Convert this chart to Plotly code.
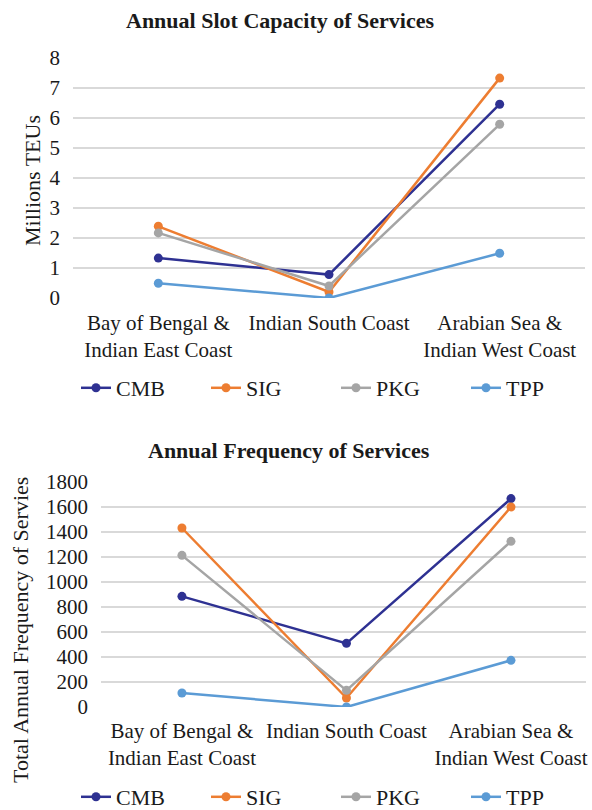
import plotly.graph_objects as go

categories = ["Bay of Bengal &<br>Indian East Coast", "Indian South Coast", "Arabian Sea &<br>Indian West Coast"]
series_names = ["CMB", "SIG", "PKG", "TPP"]
colors = ["#2E3192", "#ED7D31", "#A5A5A5", "#5B9BD5"]

# Annual slot capacity (millions TEUs)
cap_CMB = [1.33, 0.78, 6.46]
cap_SIG = [2.39, 0.20, 7.33]
cap_PKG = [2.17, 0.40, 5.79]
cap_TPP = [0.49, 0.00, 1.49]

# Annual frequency of services
freq_CMB = [885, 509, 1667]
freq_SIG = [1432, 72, 1600]
freq_PKG = [1213, 133, 1325]
freq_TPP = [112, 0, 373]

cap_values = [cap_CMB, cap_SIG, cap_PKG, cap_TPP]
freq_values = [freq_CMB, freq_SIG, freq_PKG, freq_TPP]

W, H = 592, 810
FONT = "Liberation Serif, Times New Roman, serif"
TXT = "#1a1a1a"

def px_x(p):
    return p / W

def px_y(p):
    return 1 - p / H

fig = go.Figure()
cat_idx = [0, 1, 2]
for name, col, vals in zip(series_names, colors, cap_values):
    fig.add_trace(go.Scatter(x=cat_idx, y=vals, mode="lines+markers", name=name,
                             line=dict(color=col, width=2.5), marker=dict(color=col, size=9),
                             xaxis="x", yaxis="y", legend="legend"))
for name, col, vals in zip(series_names, colors, freq_values):
    fig.add_trace(go.Scatter(x=cat_idx, y=vals, mode="lines+markers", name=name,
                             line=dict(color=col, width=2.5), marker=dict(color=col, size=9),
                             xaxis="x2", yaxis="y2", legend="legend2"))

def axis_common():
    return dict(showline=False, zeroline=False, ticks="",
                tickfont=dict(family=FONT, size=21, color=TXT))

fig.update_layout(
    width=W, height=H,
    margin=dict(l=0, r=0, t=0, b=0, autoexpand=False),
    paper_bgcolor="white", plot_bgcolor="white",
    font=dict(family=FONT, color=TXT, size=21),
    xaxis=dict(domain=[px_x(73), px_x(585)], range=[-0.5, 2.5], tickmode="array",
               tickvals=cat_idx, ticktext=categories, showgrid=False, anchor="y",
               ticklabelstandoff=10, **axis_common()),
    yaxis=dict(domain=[px_y(298), px_y(58)], range=[0, 8], dtick=1, showgrid=True,
               gridcolor="#D9D9D9", gridwidth=1.5, anchor="x", ticklabelstandoff=12, **axis_common()),
    xaxis2=dict(domain=[px_x(101), px_x(586)], range=[-0.492, 2.456], tickmode="array",
                tickvals=cat_idx, ticktext=categories, showgrid=False, anchor="y2",
                ticklabelstandoff=9, **axis_common()),
    yaxis2=dict(domain=[px_y(707), px_y(482)], range=[0, 1800], dtick=200, showgrid=True,
                gridcolor="#D9D9D9", gridwidth=1.5, anchor="x2", ticklabelstandoff=12, **axis_common()),
    legend=dict(orientation="h", x=px_x(76), y=px_y(388), xanchor="left", yanchor="middle",
                entrywidth=85, font=dict(family=FONT, size=22, color=TXT), bgcolor="rgba(0,0,0,0)"),
    legend2=dict(orientation="h", x=px_x(76), y=px_y(797), xanchor="left", yanchor="middle",
                 entrywidth=85, font=dict(family=FONT, size=22, color=TXT), bgcolor="rgba(0,0,0,0)"),
    annotations=[
        dict(text="<b>Annual Slot Capacity of Services</b>", x=px_x(280), y=px_y(21),
             xanchor="center", yanchor="middle",
             xref="paper", yref="paper", showarrow=False, font=dict(family=FONT, size=22, color=TXT)),
        dict(text="<b>Annual Frequency of Services</b>", x=px_x(289), y=px_y(450),
             xanchor="center", yanchor="middle",
             xref="paper", yref="paper", showarrow=False, font=dict(family=FONT, size=22, color=TXT)),
        dict(text="Millions TEUs", x=px_x(33), y=px_y(181), textangle=-90,
             xanchor="center", yanchor="middle",
             xref="paper", yref="paper", showarrow=False, font=dict(family=FONT, size=22, color=TXT)),
        dict(text="Total Annual Frequency of Servies", x=px_x(20), y=px_y(630), textangle=-90,
             xanchor="center", yanchor="middle",
             xref="paper", yref="paper", showarrow=False, font=dict(family=FONT, size=22, color=TXT)),
    ],
)

fig.write_html("out.html", config={"displayModeBar": False},
               post_script="document.body.style.margin='0';document.body.style.overflow='hidden';")
